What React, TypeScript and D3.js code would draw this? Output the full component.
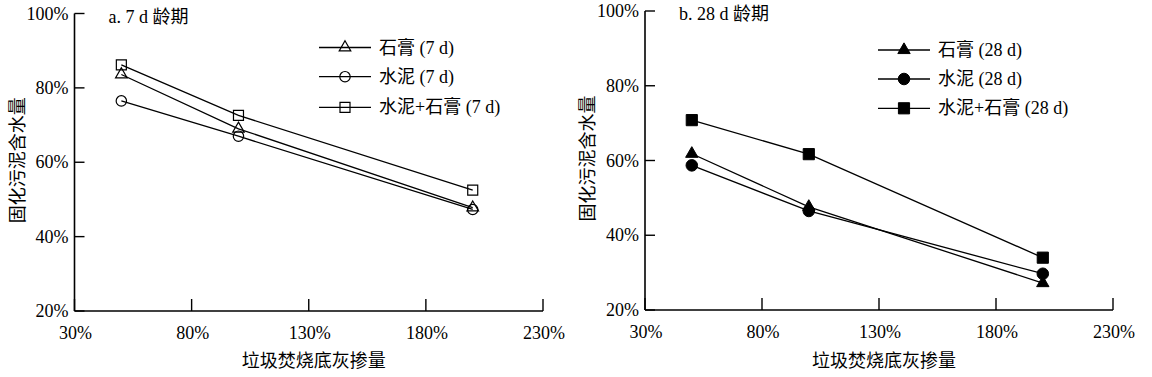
import React from "react";
import * as d3 from "d3";

const doses = [50, 100, 200];
const xTicks = [30, 80, 130, 180, 230];
const yTicks = [20, 40, 60, 80, 100];

const gypsum7 = [83.6, 69.0, 47.8];
const cement7 = [76.5, 67.0, 47.3];
const mix7 = [86.2, 72.6, 52.5];

const gypsum28 = [61.8, 47.6, 27.2];
const cement28 = [58.7, 46.5, 29.7];
const mix28 = [70.8, 61.7, 34.0];

const names7 = ["石膏 (7 d)", "水泥 (7 d)", "水泥+石膏 (7 d)"];
const names28 = ["石膏 (28 d)", "水泥 (28 d)", "水泥+石膏 (28 d)"];

const yLabel = "固化污泥含水量";
const xLabel = "垃圾焚烧底灰掺量";

const LATIN = "'Liberation Serif', 'Times New Roman', serif";
const MIXED = "'Liberation Serif', 'Noto Sans CJK SC', serif";
const CJK = "'Noto Sans CJK SC', sans-serif";

type PanelProps = {
  x0: number;
  x1: number;
  yTop: number;
  yBottom: number;
  title: string;
  series: number[][];
  names: string[];
  filled: boolean;
  legendX: number;
  legendY: number[];
};

const symbolTypes = [d3.symbolTriangle, d3.symbolCircle, d3.symbolSquare];

function Panel(p: PanelProps) {
  const x = d3.scaleLinear().domain([30, 230]).range([p.x0, p.x1]);
  const y = d3.scaleLinear().domain([20, 100]).range([p.yBottom, p.yTop]);
  const line = d3
    .line<number>()
    .x((_, i) => x(doses[i]))
    .y((d) => y(d));
  const sizesHollow = [58, 85, 100];
  const sizesFilled = [66, 105, 125];
  const sym = (k: number) =>
    d3.symbol().type(symbolTypes[k]).size(p.filled ? sizesFilled[k] : sizesHollow[k])()!;
  const markerStyle = p.filled
    ? { fill: "#000", stroke: "#000", strokeWidth: 1 }
    : { fill: "none", stroke: "#000", strokeWidth: 1.2 };
  const legLen = 52;
  return (
    <g>
      <line x1={p.x0} x2={p.x0} y1={y(100)} y2={y(20)} stroke="#000" strokeWidth={1.6} />
      <line x1={p.x0} x2={p.x1} y1={y(20)} y2={y(20)} stroke="#000" strokeWidth={1.6} />
      {yTicks.map((t) => (
        <g key={"y" + t}>
          <line x1={p.x0} x2={p.x0 + 10} y1={y(t)} y2={y(t)} stroke="#000" strokeWidth={1.4} />
          <text
            x={p.x0 - 6}
            y={y(t) + 6}
            textAnchor="end"
            fontFamily={LATIN}
            fontSize={18}
            fill="#000"
          >
            {t}%
          </text>
        </g>
      ))}
      {xTicks.map((t) => (
        <g key={"x" + t}>
          <line x1={x(t)} x2={x(t)} y1={y(20)} y2={y(20) - 12} stroke="#000" strokeWidth={1.4} />
          <text
            x={x(t) + 1}
            y={y(20) + 28}
            textAnchor="middle"
            fontFamily={LATIN}
            fontSize={18}
            fill="#000"
          >
            {t}%
          </text>
        </g>
      ))}
      <text
        transform={`translate(${p.x0 - 51},${(y(100) + y(20)) / 2 - 2}) rotate(-90)`}
        textAnchor="middle"
        fontFamily={CJK}
        fontSize={18}
        fill="#000"
      >
        {yLabel}
      </text>
      <text
        x={(p.x0 + p.x1) / 2 + 5}
        y={367}
        textAnchor="middle"
        fontFamily={CJK}
        fontSize={18}
        fill="#000"
      >
        {xLabel}
      </text>
      <text x={p.x0 + 34} y={y(100) + 9} fontFamily={MIXED} fontSize={18} fill="#000">
        {p.title}
      </text>
      {p.series.map((s, k) => (
        <g key={"s" + k}>
          <path d={line(s)!} fill="none" stroke="#000" strokeWidth={1.3} />
          {s.map((v, i) => (
            <path
              key={i}
              d={sym(k)}
              transform={`translate(${x(doses[i])},${y(v)})`}
              {...markerStyle}
            />
          ))}
        </g>
      ))}
      {p.names.map((n, k) => (
        <g key={"l" + k}>
          <line
            x1={p.legendX}
            x2={p.legendX + legLen}
            y1={p.legendY[k]}
            y2={p.legendY[k]}
            stroke="#000"
            strokeWidth={1.3}
          />
          <path
            d={sym(k)}
            transform={`translate(${p.legendX + legLen / 2},${p.legendY[k]})`}
            {...markerStyle}
          />
          <text
            x={p.legendX + legLen + 8}
            y={p.legendY[k] + 6}
            fontFamily={MIXED}
            fontSize={18}
            fill="#000"
          >
            {n}
          </text>
        </g>
      ))}
    </g>
  );
}

export default function App() {
  return (
    <svg
      width={1152}
      height={377}
      style={{ position: "absolute", left: 0, top: 0, background: "#fff" }}
    >
      <rect width={1152} height={377} fill="#fff" />
      <Panel
        x0={74.5}
        x1={543}
        yTop={13.5}
        yBottom={311}
        title="a. 7 d 龄期"
        series={[gypsum7, cement7, mix7]}
        names={names7}
        filled={false}
        legendX={319}
        legendY={[47.5, 76.7, 107.3]}
      />
      <Panel
        x0={645}
        x1={1113}
        yTop={11}
        yBottom={310}
        title="b. 28 d 龄期"
        series={[gypsum28, cement28, mix28]}
        names={names28}
        filled={true}
        legendX={878}
        legendY={[50, 79, 108.3]}
      />
    </svg>
  );
}
